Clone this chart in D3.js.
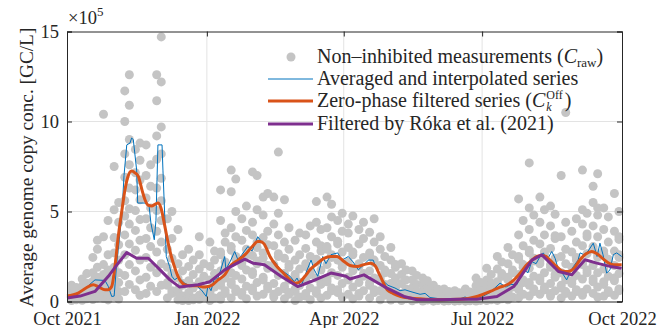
<!DOCTYPE html>
<html>
<head>
<meta charset="utf-8">
<script src="https://cdn.jsdelivr.net/npm/d3@7"></script>
<style>
  body { margin: 0; background: #fff; }
</style>
</head>
<body>
<div id="chart"></div>
<script>
// sampling weeks (Mondays); second sample of the week is on Thursday
const weekStarts = [
  "2021-10-04","2021-10-11","2021-10-18","2021-10-25","2021-11-01","2021-11-08","2021-11-15","2021-11-22","2021-11-29",
  "2021-12-06","2021-12-13","2021-12-20","2021-12-27","2022-01-03","2022-01-10","2022-01-17","2022-01-24","2022-01-31",
  "2022-02-07","2022-02-14","2022-02-21","2022-02-28","2022-03-07","2022-03-14","2022-03-21","2022-03-28","2022-04-04",
  "2022-04-11","2022-04-18","2022-04-25","2022-05-02","2022-05-09","2022-05-16","2022-05-23","2022-05-30","2022-06-06",
  "2022-06-13","2022-06-20","2022-06-27","2022-07-04","2022-07-11","2022-07-18","2022-07-25","2022-08-01","2022-08-08",
  "2022-08-15","2022-08-22","2022-08-29","2022-09-05","2022-09-12","2022-09-19","2022-09-26"
];

// raw measurements, x10^5 GC/L
const rawMonday = [
  [0.05,0.2,0.33,0.48,0.62,0.9],[0.07,0.24,0.38,0.57,0.85,1.25],[0.11,0.36,0.6,0.83,1.12,1.6,2.45,0.95],
  [0.18,0.52,0.84,1.17,1.5,2.05,3.6,10.4],[0.28,0.75,1.25,1.9,2.7,3.55,5.1,7.5],
  [0.55,1.45,2.6,3.7,4.75,5.6,6.9,8.2,10.0,11.7],[0.65,1.7,2.85,3.95,5.05,6.2,7.15,8.45],
  [0.45,1.35,2.45,3.5,4.6,5.75,7.0,8.7],[0.55,1.6,2.75,3.9,5.05,6.3,7.9,9.2,11.15,12.6],
  [0.2,0.9,1.05,1.9,2.9,4.6],[0.1,0.5,0.65,1.3,2.1,4.0],[0.05,0.4,0.5,1.15,1.95,2.9],
  [0.12,0.35,0.95,1.1,1.8,2.6,3.6],[0.05,0.45,0.55,1.2,1.95,3.3],
  [0.12,0.3,0.9,1.05,1.7,2.6,2.75,4.5,6.2],[0.2,0.95,1.1,1.6,2.85,3.05,4.1,6.1,7.3],
  [0.35,0.5,1.25,2.0,2.15,3.4,4.6],[0.6,0.75,1.5,1.65,2.55,3.7,4.4,7.2],
  [0.4,1.2,1.35,2.4,2.7,3.55,4.8,5.8],[0.25,0.4,1.0,1.9,2.05,3.1,4.3,5.8],
  [0.15,0.7,0.85,1.55,2.4,3.3,5.65],[0.05,0.55,0.7,1.35,1.5,2.3,3.4],
  [0.3,0.45,1.15,1.95,2.1,2.95,3.7],[0.45,0.6,1.3,2.2,2.35,3.3,4.4,5.55],
  [0.35,1.1,1.25,2.05,2.9,3.05,4.1,5.8],[0.5,0.65,1.45,2.3,3.2,3.35,4.5],
  [0.4,1.2,1.35,2.2,3.0,3.8,4.3],[0.3,0.45,1.05,1.95,2.1,3.2,4.0],
  [0.2,0.9,1.05,1.7,2.55,2.7,3.85],[0.1,0.6,1.15,1.3,2.0,2.9,3.6],
  [0.08,0.4,0.55,1.0,1.55,2.3,3.0],[0.05,0.35,0.45,1.0,1.5,2.1],
  [0.04,0.25,0.3,0.75,1.2,1.7],[0.03,0.2,0.25,0.6,0.95,1.3],
  [0.02,0.09,0.2,0.34,0.54,0.9],[0.02,0.07,0.16,0.28,0.45,0.7],[0.02,0.06,0.14,0.24,0.38,0.6],
  [0.02,0.07,0.16,0.27,0.42,0.7],[0.03,0.11,0.23,0.38,0.58,0.88,1.3],[0.05,0.18,0.36,0.58,0.86,1.2,1.85],
  [0.06,0.3,0.4,0.95,1.1,1.8,2.5],[0.1,0.45,0.55,1.2,1.35,2.1,3.0],
  [0.2,0.65,0.8,1.5,2.35,2.5,3.7,5.7],[0.3,0.9,1.05,1.85,2.7,2.85,4.0,5.2,7.7],
  [0.4,1.15,1.3,2.1,2.25,3.2,4.4,5.8],[0.3,0.45,1.0,1.9,2.05,2.95,4.2,5.3],
  [0.2,0.75,0.9,1.6,2.5,3.6,7.0],[0.3,1.0,1.15,1.9,2.75,3.9],
  [0.35,0.5,1.25,2.05,2.2,3.1,4.3,5.1,7.3],[0.45,1.1,1.25,2.0,2.9,3.05,4.2,5.5,6.4],
  [0.3,0.95,1.1,1.8,2.65,2.8,4.0,5.2],[0.35,1.15,1.3,2.0,2.8,3.9,6.0]
];
const rawThursday = [
  [0.1,0.27,0.4,0.55,0.78,0.14],[0.15,0.31,0.5,0.72,1.02,1.55,0.44],[0.2,0.47,0.7,1.0,1.35,1.9,2.9,3.4],
  [0.09,0.38,0.66,0.98,1.3,1.75,2.6,4.5],[0.14,0.55,1.05,1.6,2.3,3.15,4.4,5.5],
  [0.95,2.05,3.2,4.3,5.15,6.3,7.6,9.0,10.9,12.6],[0.35,1.2,2.3,3.4,4.55,5.65,6.75,7.85,8.8],
  [0.85,1.9,3.05,4.1,5.2,6.4,7.6],[0.9,2.1,3.3,4.5,5.6,6.85,8.2,9.7,12.2,14.7],
  [0.45,0.6,1.4,1.55,2.4,3.5,5.0],[0.3,0.9,1.0,1.7,2.6,0.05],[0.2,0.75,0.85,1.5,2.3,0.1],
  [0.25,0.6,0.7,1.4,2.1],[0.2,0.8,0.9,1.55,2.3,2.8],
  [0.45,0.6,1.3,1.95,2.2,3.3,3.8],[0.55,0.7,1.45,2.35,2.5,3.6,5.0,6.8],
  [0.15,0.85,1.75,2.6,2.9,3.95,5.3],[0.3,1.05,2.1,2.25,3.0,3.3,5.1,7.0],
  [0.7,0.85,1.85,2.0,3.15,3.9,6.0],[0.55,1.45,1.6,2.5,2.65,3.7,4.9,8.3],
  [0.4,0.5,1.2,1.9,2.05,2.9,4.1],[0.25,0.9,1.05,1.8,2.6,3.8],
  [0.1,0.75,1.5,1.65,2.5,4.2],[0.2,0.95,1.1,1.75,2.8,3.1,4.0],
  [0.6,0.75,1.6,2.45,2.6,3.6,4.7,5.4],[0.25,1.0,1.9,2.05,2.75,3.9,4.9],
  [0.15,0.8,1.7,1.85,2.6,2.75,4.75],[0.6,1.4,1.55,2.45,3.5,4.4],
  [0.5,0.65,1.3,2.15,2.3,3.3,4.6],[0.35,0.45,0.95,1.6,1.75,2.5],
  [0.2,0.75,0.85,1.3,1.9,2.05],[0.15,0.6,0.7,1.2,1.75],
  [0.12,0.5,0.55,0.95,1.45],[0.08,0.4,0.45,0.8,1.15],
  [0.05,0.14,0.27,0.43,0.68],[0.04,0.11,0.22,0.36,0.56],[0.04,0.1,0.19,0.31,0.48],
  [0.04,0.11,0.21,0.34,0.53],[0.06,0.16,0.3,0.47,0.7,1.05],[0.1,0.26,0.46,0.72,1.02,1.5],
  [0.15,0.6,0.7,1.4,1.55,2.2],[0.25,0.8,0.9,1.6,1.75,2.6],
  [0.4,1.05,1.2,1.9,2.05,3.1,4.5],[0.55,0.7,1.4,2.25,2.4,3.4,4.8],
  [0.65,0.8,1.6,2.6,2.75,3.7,5.1],[0.6,1.35,1.5,2.4,3.5,3.65,4.85],
  [0.45,0.55,1.2,1.35,2.1,2.9,4.4,10.5],[0.55,0.65,1.45,2.3,2.45,3.3,4.6],
  [0.7,1.6,1.75,2.65,3.6,3.75,4.9],[0.25,0.8,1.6,2.45,2.6,3.6,4.8,5.2,7.1],
  [0.5,0.6,1.4,2.2,2.35,3.3,4.7],[0.6,0.7,1.55,2.45,2.6,3.45,3.6,5.0]
];

// curves: day = days since 1 Oct 2021, values x10^5
const avgDay = [0,9.7,18.4,25,27.2,29.4,31,32.7,36,37.5,39.3,41.4,42.5,43.6,45.8,46.5,51.3,54,55.2,57.4,58.5,59.8,62.5,63.1,64.3,65.3,
  67.5,69,70.8,73,77.4,81.7,84.8,88.3,91.6,92.7,94.7,96.7,99.3,101.3,103.7,104.5,107.2,110.3,112.5,115,119,121.7,125.4,128.2,130.9,
  133.5,136.8,140,143.4,146.7,149.5,151.3,153.9,157.2,160.5,162.4,164.9,168.2,170.3,173.6,178,180.9,185,188.1,191.6,194.7,198.2,
  201.4,203.9,207.2,211.1,215.7,219,222.3,225.6,232.2,235.5,238.7,245.3,251.9,258.5,261.8,265,271.6,278.2,284.8,288.7,292,295.8,
  298,300.1,303.2,305.6,308.5,311.1,313.3,315.7,318.8,321,323.2,325.6,328.6,330.8,333,336.1,337.4,340,342.7,346.1,348.6,350.5,
  352.5,354.9,357.1,359.3,361.5,364.8];
const avgValue = [0.2,0.56,1.2,1.17,0.83,0.28,0.3,2.13,4.7,7.0,8.7,8.8,9.08,9.0,7.3,5.47,5.47,5.3,4.35,3.43,4.5,8.7,8.7,7.3,4.7,2.5,
  1.94,1.4,1.2,1.35,1.02,0.83,0.9,0.65,0.28,0.9,0.6,1.2,1.3,1.8,2.5,1.8,2.2,2.78,2.3,2.6,3.06,2.8,3.6,3.3,3.1,
  2.4,2.2,1.8,1.6,1.4,1.1,1.3,0.83,1.6,2.3,1.8,1.4,2.5,2.1,2.6,2.7,2.3,2.5,2.2,1.76,2.0,2.3,
  2.3,1.7,1.2,0.9,0.75,0.6,0.65,0.56,0.4,0.45,0.22,0.15,0.12,0.15,0.25,0.12,0.2,0.5,1.02,0.8,0.95,0.93,
  1.3,1.76,1.6,2.22,2.1,2.5,2.7,2.3,2.78,2.4,1.76,1.6,1.2,1.6,1.94,2.3,2.7,2.6,2.8,3.24,2.5,3.24,
  2.6,1.58,1.76,2.6,2.7,2.5];

const zeroPhaseDay = [0,7.4,12.5,17.3,21,25,27,29.4,31.6,33.7,36,38.1,40.1,42.5,44.7,46.9,49.3,51.3,53.3,55.7,57.9,59.8,61.8,64.3,
  66.4,68.6,71,73,75,77.4,80.9,86.2,89.4,92.7,96,99.3,103.7,107.2,112.5,117.1,122.3,125.4,127,129.6,133.5,137.5,142.3,146.7,150,
  153.2,156.5,159.8,164.9,169,173.6,177.6,182.2,186.1,190.9,195.3,199.7,202.5,205.8,210.6,214.4,219.5,225.6,232.2,245.3,258.5,
  269.6,278.4,284.8,289.4,294,298.1,301.9,305.8,309.1,312.2,315,317.6,322,325.6,329.8,333.5,337.4,341.4,345.1,348.6,352.8,355.9,
  359.3,364.8];
const zeroPhaseValue = [0.3,0.47,0.75,0.93,0.8,0.65,0.65,0.83,2.0,3.6,5.0,6.2,6.95,7.25,7.15,6.95,6.2,5.65,5.35,5.3,5.4,5.47,5.2,4.2,
  3.3,2.5,1.85,1.4,1.1,0.93,0.87,0.87,0.8,0.83,0.95,1.2,1.48,1.95,2.3,2.6,3.1,3.33,3.33,3.2,2.5,2.0,1.58,1.2,1.02,
  1.1,1.4,1.76,2.13,2.4,2.5,2.5,2.22,2.0,1.94,2.05,2.13,2.0,1.45,0.65,0.45,0.28,0.2,0.15,0.1,0.12,
  0.28,0.56,0.8,0.93,1.2,1.58,2.0,2.3,2.5,2.55,2.5,2.3,1.95,1.7,1.67,1.85,2.32,2.65,2.78,2.65,2.35,2.15,
  2.04,2.04];

const rokaDay = [0,8.6,18.4,27.2,33.7,39.3,45.8,53.5,61.2,67.7,74.1,86.2,94,103.7,116.9,122.3,129.8,140.7,151.7,160.5,173.6,183.5,
  186.1,195.3,208.5,221.6,230.2,245.3,258.5,269.6,282.8,293.8,305.8,312.2,323.2,332,340.7,348.4,357.1,364.8];
const rokaValue = [0.19,0.3,0.56,1.4,2.13,2.72,2.4,2.4,1.76,1.2,0.8,0.93,1.1,1.76,2.35,2.13,2.04,1.4,0.83,1.11,1.58,1.4,
  1.25,1.48,0.83,0.28,0.1,0.1,0.12,0.12,0.28,0.83,2.3,2.6,1.67,1.48,2.32,2.13,1.95,1.85];

const yTicks = [0, 5, 10, 15];
const xTickDates = ["2021-10-01", "2022-01-01", "2022-04-01", "2022-07-01", "2022-10-01"];

const width = 672, height = 328;
const margin = { top: 31.5, right: 50, bottom: 26.5, left: 67 };
const innerW = width - margin.left - margin.right;
const innerH = height - margin.top - margin.bottom;
const serif = '"Liberation Serif", "Times New Roman", serif';
const ink = "#262626";

const parse = d3.utcParse("%Y-%m-%d");
const start = parse("2021-10-01");
const dayToDate = d => new Date(start.getTime() + d * 864e5);

const svg = d3.select("#chart").append("svg")
  .attr("width", width)
  .attr("height", height);

const x = d3.scaleUtc()
  .domain([start, parse("2022-10-01")])
  .range([margin.left, margin.left + innerW]);
const y = d3.scaleLinear()
  .domain([0, 15])
  .range([margin.top + innerH, margin.top]);

// grid
const grid = svg.append("g").attr("stroke", "#e3e3e3").attr("stroke-width", 1);
grid.selectAll("line.gx").data(xTickDates.slice(1, -1)).enter().append("line")
  .attr("x1", d => x(parse(d))).attr("x2", d => x(parse(d)))
  .attr("y1", margin.top).attr("y2", margin.top + innerH);
grid.selectAll("line.gy").data(yTicks.slice(1, -1)).enter().append("line")
  .attr("x1", margin.left).attr("x2", margin.left + innerW)
  .attr("y1", d => y(d)).attr("y2", d => y(d));

// raw points
const rawPoints = [];
weekStarts.forEach((w, i) => {
  const mon = parse(w);
  const thu = new Date(mon.getTime() + 3 * 864e5);
  rawMonday[i].forEach(v => rawPoints.push([mon, v]));
  rawThursday[i].forEach(v => rawPoints.push([thu, v]));
});
svg.append("g").selectAll("circle")
  .data(rawPoints)
  .enter().append("circle")
  .attr("cx", d => x(d[0]))
  .attr("cy", d => y(d[1]))
  .attr("r", 4.5)
  .attr("fill", "#c4c4c4");

// lines
const line = d3.line().x(d => x(d[0])).y(d => y(d[1]));
const zip = (days, vals) => days.map((d, i) => [dayToDate(d), vals[i]]);

svg.append("path")
  .datum(zip(avgDay, avgValue))
  .attr("fill", "none").attr("stroke", "#0072BD").attr("stroke-width", 1)
  .attr("d", line.curve(d3.curveLinear));
svg.append("path")
  .datum(zip(zeroPhaseDay, zeroPhaseValue))
  .attr("fill", "none").attr("stroke", "#D95319").attr("stroke-width", 3)
  .attr("stroke-linejoin", "round")
  .attr("d", line.curve(d3.curveMonotoneX));
svg.append("path")
  .datum(zip(rokaDay, rokaValue))
  .attr("fill", "none").attr("stroke", "#7E2F8E").attr("stroke-width", 3)
  .attr("stroke-linejoin", "round")
  .attr("d", line.curve(d3.curveLinear));

// axes (box with inward ticks)
const xVals = xTickDates.map(parse);
svg.append("g")
  .attr("transform", "translate(0," + (margin.top + innerH) + ")")
  .call(d3.axisBottom(x).tickValues(xVals).tickFormat(d3.utcFormat("%b %Y")).tickSize(-5).tickPadding(10));
svg.append("g")
  .attr("transform", "translate(0," + margin.top + ")")
  .call(d3.axisTop(x).tickValues(xVals).tickFormat("").tickSize(-5));
svg.append("g")
  .attr("transform", "translate(" + margin.left + ",0)")
  .call(d3.axisLeft(y).tickValues(yTicks).tickSize(-5).tickPadding(8));
svg.append("g")
  .attr("transform", "translate(" + (margin.left + innerW) + ",0)")
  .call(d3.axisRight(y).tickValues(yTicks).tickFormat("").tickSize(-5));
svg.selectAll(".domain").attr("stroke", ink);
svg.selectAll(".tick line").attr("stroke", ink);
svg.selectAll(".tick text").attr("fill", ink).style("font-size", "18.5px");

// exponent label
const expo = svg.append("text").attr("x", margin.left + 1).attr("y", 24).style("font-size", "18.5px");
expo.append("tspan").text("×10");
expo.append("tspan").attr("dy", -8).style("font-size", "13px").text("5");

// y label
svg.append("text")
  .attr("transform", "translate(33," + (margin.top + innerH / 2 + 1) + ") rotate(-90)")
  .attr("text-anchor", "middle")
  .style("font-size", "19.3px")
  .text("Average genome copy conc. [GC/L]");

// legend
const legX = 268, legRows = [57, 79, 101, 124];
const leg = svg.append("g");
leg.append("circle").attr("cx", legX + 23).attr("cy", legRows[0]).attr("r", 4.5).attr("fill", "#c4c4c4");
leg.append("line").attr("x1", legX).attr("x2", legX + 45).attr("y1", legRows[1]).attr("y2", legRows[1])
  .attr("stroke", "#0072BD").attr("stroke-width", 1);
leg.append("line").attr("x1", legX).attr("x2", legX + 45).attr("y1", legRows[2]).attr("y2", legRows[2])
  .attr("stroke", "#D95319").attr("stroke-width", 3);
leg.append("line").attr("x1", legX).attr("x2", legX + 45).attr("y1", legRows[3]).attr("y2", legRows[3])
  .attr("stroke", "#7E2F8E").attr("stroke-width", 3);

const fs = "20px";
const tx = legX + 49;
const t0 = leg.append("text").attr("x", tx).attr("y", legRows[0] + 6).style("font-size", fs);
t0.append("tspan").text("Non–inhibited measurements (");
t0.append("tspan").style("font-style", "italic").text("C");
t0.append("tspan").attr("dy", 4).style("font-size", "13px").text("raw");
t0.append("tspan").attr("dy", -4).text(")");

leg.append("text").attr("x", tx).attr("y", legRows[1] + 6).style("font-size", fs)
  .text("Averaged and interpolated series");

leg.append("text").attr("x", tx).attr("y", legRows[3] + 6).style("font-size", fs)
  .text("Filtered by Róka et al. (2021)");

const t2 = leg.append("text").attr("x", tx).attr("y", legRows[2] + 6).style("font-size", fs);

// apply the serif face everywhere before measuring
svg.selectAll("text").style("font-family", serif).style("fill", ink);

// C with stacked super/subscript, all in one text element
t2.append("tspan").text("Zero-phase filtered series (");
t2.append("tspan").style("font-style", "italic").text("C");
const w2 = t2.node().getComputedTextLength();
const supT = t2.append("tspan").attr("x", tx + w2 + 1).attr("dy", -8).style("font-size", "12px").text("Off");
const ws = supT.node().getComputedTextLength();
t2.append("tspan").attr("x", tx + w2 + 1).attr("dy", 12).style("font-size", "12px")
  .style("font-style", "italic").text("k");
t2.append("tspan").attr("x", tx + w2 + ws + 3).attr("dy", -4).text(")");
</script>
</body>
</html>
